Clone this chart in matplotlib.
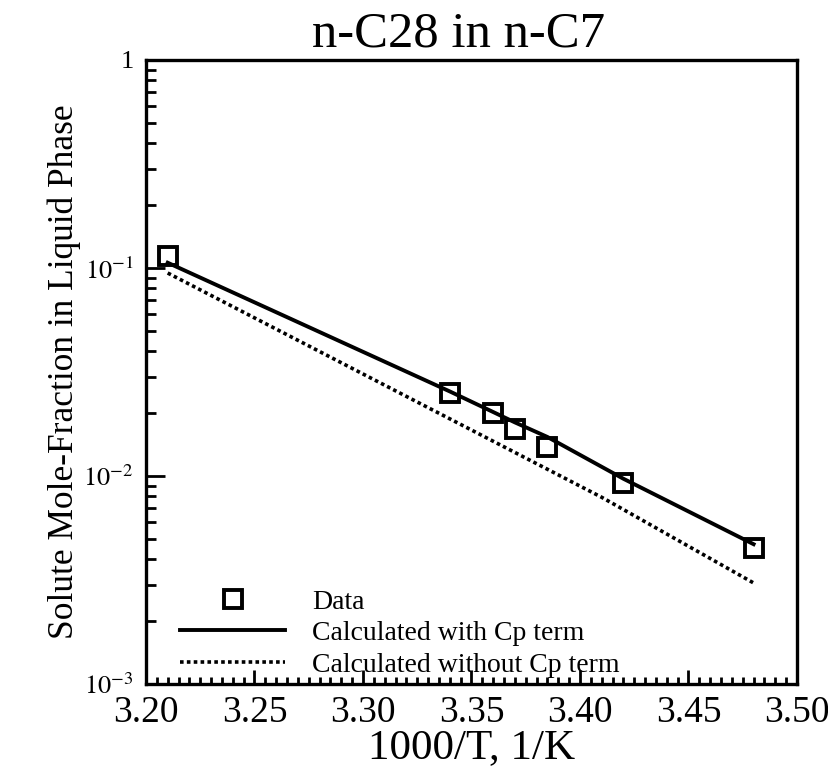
import matplotlib
matplotlib.use('Agg')

import matplotlib.pyplot as plt
from matplotlib.ticker import MultipleLocator, LogLocator, FixedLocator, FixedFormatter, NullFormatter

plt.rcParams['font.family'] = ['Liberation Serif', 'DejaVu Serif']
plt.rcParams['mathtext.fontset'] = 'stix'

# measured data
data_x = [3.21, 3.34, 3.36, 3.37, 3.385, 3.42, 3.48]
data_y = [0.114, 0.0251, 0.0201, 0.0168, 0.0138, 0.00925, 0.00451]

# calculated with Cp term
cp_x = [3.21, 3.34, 3.36, 3.37, 3.385, 3.42, 3.48]
cp_y = [0.106, 0.0255, 0.0203, 0.0181, 0.0154, 0.0097, 0.0047]

# calculated without Cp term
nocp_x = [3.21, 3.326, 3.41, 3.48]
nocp_y = [0.0946, 0.0224, 0.0079, 0.00306]

x_ticks = [3.20, 3.25, 3.30, 3.35, 3.40, 3.45, 3.50]
x_labels = ['3.20', '3.25', '3.30', '3.35', '3.40', '3.45', '3.50']
y_ticks = [1e-3, 1e-2, 1e-1, 1]
y_labels = ['$10^{-3}$', '$10^{-2}$', '$10^{-1}$', '1']

fig = plt.figure(figsize=(8.29, 7.70), dpi=100)
ax = fig.add_axes([0.1761, 0.1117, 0.7853, 0.8104])

ax.plot(data_x, data_y, linestyle='none', marker='s', markersize=13.5,
        markerfacecolor='none', markeredgecolor='black', markeredgewidth=2.8,
        label='Data')
ax.plot(cp_x, cp_y, color='black', linewidth=2.8, label='Calculated with Cp term')
ax.plot(nocp_x, nocp_y, color='black', linewidth=2.6, linestyle=(0, (1, 0.9)),
        label='Calculated without Cp term')

ax.set_yscale('log')
ax.set_xlim(3.20, 3.50)
ax.set_ylim(1e-3, 1)

ax.set_xticks(x_ticks)
ax.set_xticklabels(x_labels)
ax.xaxis.set_minor_locator(MultipleLocator(0.005))

ax.yaxis.set_major_locator(FixedLocator(y_ticks))
ax.yaxis.set_major_formatter(FixedFormatter(y_labels))
ax.yaxis.set_minor_locator(LogLocator(base=10, subs=range(2, 10)))
ax.yaxis.set_minor_formatter(NullFormatter())

ax.tick_params(axis='both', which='both', direction='in', top=False, right=False,
               width=2)
ax.tick_params(axis='x', which='major', length=10, pad=8, labelsize=27)
ax.tick_params(axis='x', which='minor', length=5)
ax.tick_params(axis='y', which='major', length=14, pad=9, labelsize=19)
ax.tick_params(axis='y', which='minor', length=7)

for s in ax.spines.values():
    s.set_linewidth(2.4)

ax.set_title('n-C28 in n-C7', fontsize=36.5, pad=10, x=0.48)
ax.set_xlabel('1000/T, 1/K', fontsize=31)
ax.xaxis.set_label_coords(0.5, -0.072)
ax.set_ylabel('Solute Mole-Fraction in Liquid Phase', fontsize=25.5)
ax.yaxis.set_label_coords(-0.1, 0.5)

ax.legend(loc='upper left', bbox_to_anchor=(0.053, 0.152), frameon=False,
          fontsize=20, handlelength=3.75, handletextpad=1.0, labelspacing=0.22,
          borderpad=0, borderaxespad=0)

plt.savefig('out.png', dpi=100)
plt.close()
